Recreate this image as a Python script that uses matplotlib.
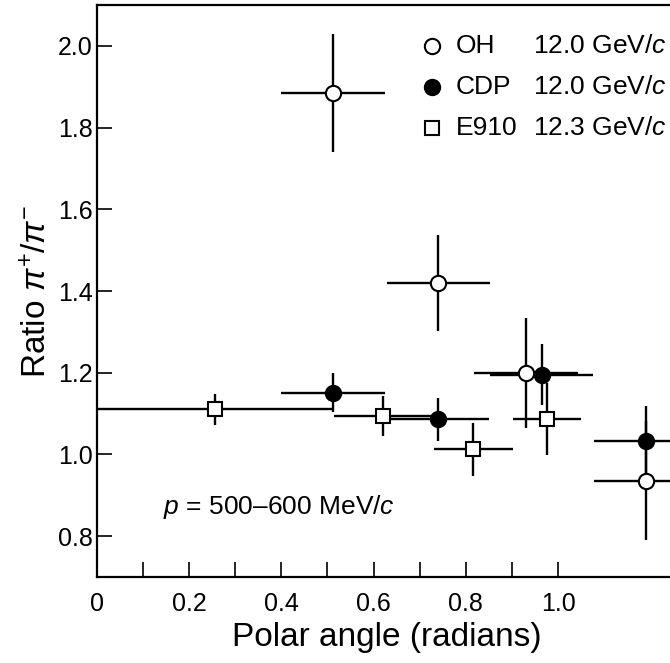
import matplotlib
matplotlib.use("Agg")
import matplotlib.pyplot as plt
from matplotlib.lines import Line2D

plt.rcParams['font.family'] = ['Liberation Sans', 'DejaVu Sans']
plt.rcParams['mathtext.fontset'] = 'custom'
plt.rcParams['mathtext.rm'] = 'Liberation Sans'
plt.rcParams['mathtext.it'] = 'Liberation Sans:italic'

# OH 12.0 GeV/c (open circles)
oh_x = [0.512, 0.740, 0.930, 1.190]
oh_y = [1.884, 1.419, 1.199, 0.936]
oh_xerr = [0.113, 0.112, 0.113, 0.112]
oh_yerr = [0.144, 0.118, 0.135, 0.145]

# CDP 12.0 GeV/c (filled circles)
cdp_x = [0.512, 0.739, 0.964, 1.190]
cdp_y = [1.151, 1.086, 1.195, 1.034]
cdp_xerr = [0.113, 0.112, 0.112, 0.112]
cdp_yerr = [0.048, 0.053, 0.075, 0.085]

# E910 12.3 GeV/c (open squares)
e910_x = [0.256, 0.621, 0.816, 0.976]
e910_y = [1.111, 1.094, 1.013, 1.086]
e910_xerr = [0.256, 0.106, 0.085, 0.074]
e910_yerr = [0.038, 0.048, 0.065, 0.088]

legend_names = ['OH', 'CDP', 'E910']
legend_energy = ['12.0 GeV/$c$', '12.0 GeV/$c$', '12.3 GeV/$c$']

W, H = 670, 663
fig = plt.figure(figsize=(W / 100, H / 100), dpi=100)
ax = fig.add_axes([96.7 / W, 1 - 577 / H, 580 / W, 572 / H])

lw = 1.7
ax.errorbar(e910_x, e910_y, xerr=e910_xerr, yerr=e910_yerr, fmt='s', color='black',
            mfc='white', mec='black', ms=10, mew=1.5, elinewidth=lw, capsize=0, zorder=3)
ax.errorbar(cdp_x, cdp_y, xerr=cdp_xerr, yerr=cdp_yerr, fmt='o', color='black',
            mfc='black', mec='black', ms=11, mew=1.5, elinewidth=lw, capsize=0, zorder=3)
ax.errorbar(oh_x, oh_y, xerr=oh_xerr, yerr=oh_yerr, fmt='o', color='black',
            mfc='white', mec='black', ms=11, mew=1.5, elinewidth=lw, capsize=0, zorder=3)

ax.set_xlim(0, 580 / 461.5)
ax.set_ylim(0.7, 2.1)
ax.set_xticks([i / 10 for i in range(0, 11)])
ax.set_xticklabels(['0' if i == 0 else ('%.1f' % (i / 10) if i % 2 == 0 else '') for i in range(0, 11)])
ax.set_yticks([0.8, 1.0, 1.2, 1.4, 1.6, 1.8, 2.0])
ax.set_yticklabels(['0.8', '1.0', '1.2', '1.4', '1.6', '1.8', '2.0'])
ax.tick_params(direction='in', length=11, width=1.2, labelsize=18)
ax.tick_params(axis='x', pad=11)
ax.tick_params(axis='y', pad=3)
for s in ax.spines.values():
    s.set_linewidth(1.6)

ax.set_xlabel('Polar angle (radians)', fontsize=24, labelpad=4)
ax.set_ylabel(r'Ratio $\pi^{+}/\pi^{-}$', fontsize=24, labelpad=3)

ax.text((163 - 96.7) / 580, 1 - (507 - 5) / 572, r'$p$ = 500–600 MeV/$c$', transform=ax.transAxes,
        fontsize=19, va='center', ha='left')

# legend drawn by hand
rows_y = [46, 87, 128]
markers = [dict(marker='o', mfc='white', ms=11), dict(marker='o', mfc='black', ms=11),
           dict(marker='s', mfc='white', ms=10)]
for i in range(3):
    yy = 1 - rows_y[i] / H
    fig.add_artist(Line2D([432 / W], [yy], linestyle='none', mec='black', mew=1.5,
                          transform=fig.transFigure, **markers[i]))
    fig.text(456 / W, yy, legend_names[i], fontsize=19, va='center', ha='left')
    fig.text(667 / W, yy, legend_energy[i], fontsize=19, va='center', ha='right')

fig.savefig('out.png', dpi=100)
